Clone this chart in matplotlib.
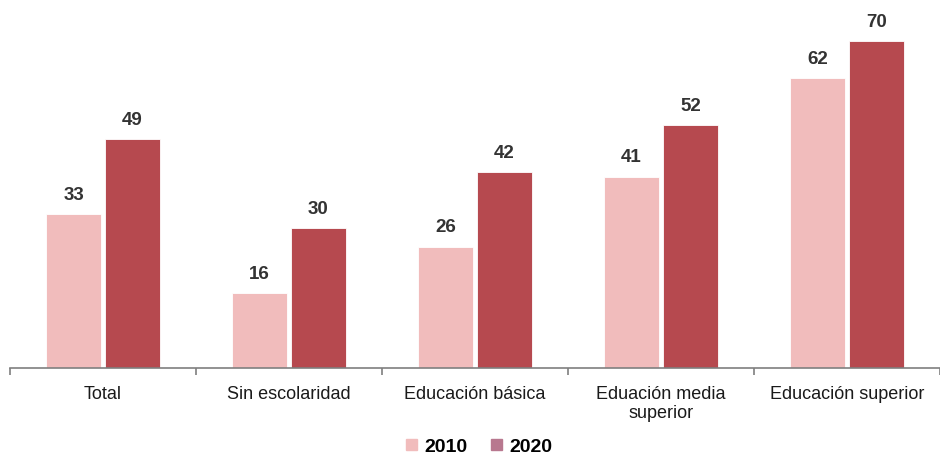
import matplotlib
matplotlib.use("Agg")
import matplotlib.pyplot as plt
from matplotlib.patches import Patch
import numpy as np

plt.rcParams['font.family'] = ['Liberation Sans', 'DejaVu Sans']

categorias = ['Total', 'Sin escolaridad', 'Educación básica',
              'Eduación media\nsuperior', 'Educación superior']
valores_2010 = [33, 16, 26, 41, 62]
valores_2020 = [49, 30, 42, 52, 70]
series = ['2010', '2020']

color_2010 = '#f1bcbc'
color_2020 = '#b6494f'

fig = plt.figure(figsize=(9.4, 4.56), dpi=100)
ax = fig.add_axes([0.0106, 0.1908, 0.9894, 0.768])

x = np.arange(len(categorias))
ancho = 0.296
desp = 0.158

b1 = ax.bar(x - desp, valores_2010, ancho, color=color_2010, edgecolor='white', linewidth=0.6)
b2 = ax.bar(x + desp, valores_2020, ancho, color=color_2020, edgecolor='white', linewidth=0.6)

# etiquetas de valor sobre cada barra
for barras in (b1, b2):
    for r in barras:
        ax.annotate(f'{int(r.get_height())}', (r.get_x() + r.get_width() / 2, r.get_height()),
                    xytext=(0, 8), textcoords='offset points', ha='center', va='bottom',
                    fontsize=13.5, fontweight='bold', color='#333333')

ax.set_xlim(-0.5, len(categorias) - 0.5)
ax.set_ylim(0, 75)
ax.set_yticks([])
for s in ['top', 'right', 'left']:
    ax.spines[s].set_visible(False)
ax.spines['bottom'].set_color('#7f7f7f')
ax.spines['bottom'].set_linewidth(1.2)

ax.set_xticks(x)
ax.set_xticklabels(categorias, fontsize=13, color='#1a1a1a', linespacing=1.15)
ax.tick_params(axis='x', which='major', length=0, pad=12)
ax.set_xticks(np.arange(len(categorias) + 1) - 0.5, minor=True)
ax.tick_params(axis='x', which='minor', length=5, width=1.2, color='#7f7f7f', direction='out')

handles = [Patch(color=color_2010), Patch(color='#b8788f')]
fig.legend(handles, series, loc='center', bbox_to_anchor=(0.51, 0.018), ncol=2,
           frameon=False, handlelength=0.55, handleheight=0.55, handletextpad=0.4,
           columnspacing=1.2, borderpad=0.1, prop={'weight': 'bold', 'size': 14})

fig.savefig('out.png', dpi=100)
